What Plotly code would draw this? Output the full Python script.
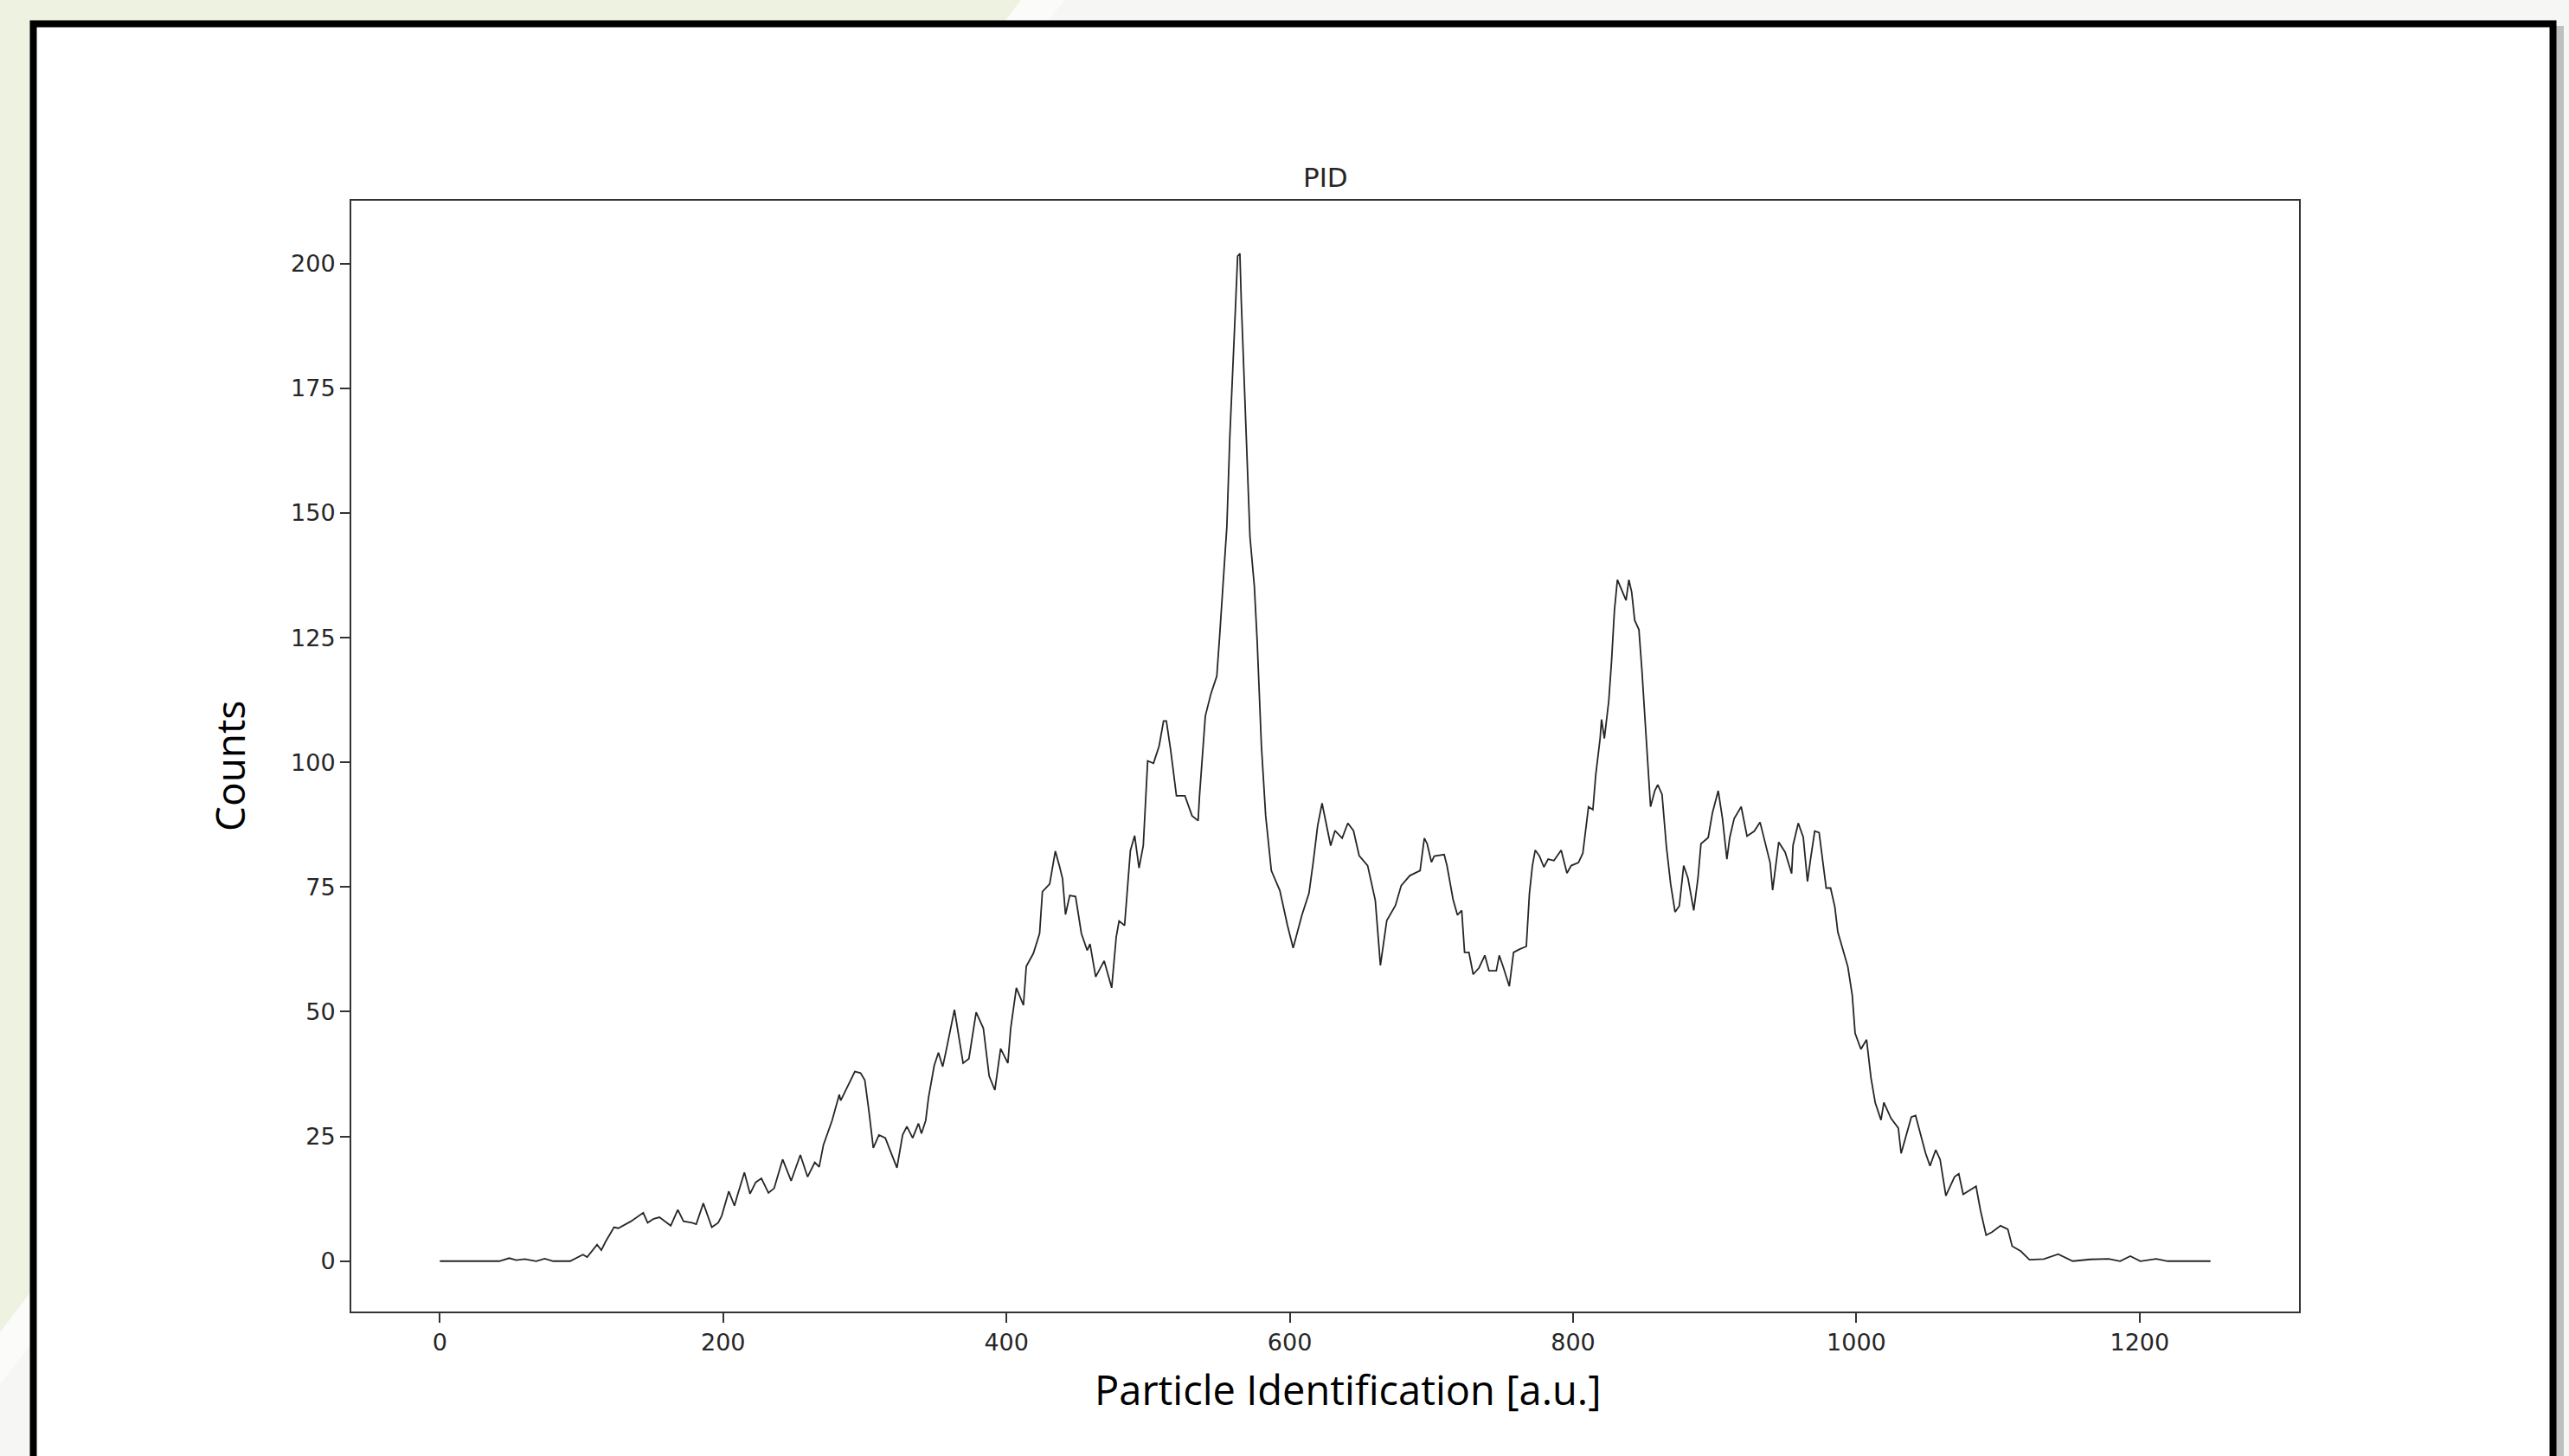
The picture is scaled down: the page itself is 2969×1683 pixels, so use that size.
import plotly.graph_objects as go

# ---- data ----
pid_x = [0, 10, 20, 30, 42, 49, 54, 60, 64, 68, 74, 80, 92,
         101, 104, 111, 114, 117, 123, 126, 135, 143.6, 146.7, 151, 155, 163, 168, 172, 178, 181,
         186, 192, 196.5, 199, 204, 208, 210, 215, 219, 223, 227, 232, 236, 242, 248, 254.5,
         259.6, 264.7, 267.8, 270.8, 276.9, 282, 283, 286, 290, 293, 297, 300, 303, 306, 310,
         314.5, 317.6, 322.7, 326.7, 329.7, 333.8, 337.9, 340, 343, 345, 349, 352, 355, 357,
         360, 363.3, 367.4, 369.4, 373.5, 378.6, 383.7, 387.8, 391.8, 395.9, 401, 403, 407, 412,
         414, 419, 423.4, 425.4, 430.5, 434.5, 437.6, 439.6, 441.7, 444.7, 448.8, 450.8, 452.9,
         457, 459, 463, 469, 474.3, 477.5, 479.5, 483.4, 487.5, 490.5, 493.6, 496.6, 499.7,
         503.8, 507.8, 510.9, 512.9, 516, 520, 526, 531, 535.3, 536.3, 540.4, 544.4, 548.5,
         550.5, 553.6, 555.6, 557.7, 559.7, 561.7, 563.2, 564.8, 565.8, 567.8, 569.9, 571.9,
         575, 577, 580, 583, 587, 593, 598.4, 602.4, 608.5, 613.6, 616.7, 619.7, 622.8, 625.8,
         628.9, 631.9, 637, 641, 645, 649, 655, 660.4, 664, 668.5, 674.6, 678.7, 684.8, 692,
         695, 697, 700, 702, 709, 711, 715.3, 718.4, 721.4, 723.4, 726.5, 729.5, 733.6, 737.7,
         740.7, 745.8, 747.9, 750.9, 755, 758, 762, 767, 769.2, 771.3, 773.3, 776.3, 779.4,
         782.4, 786.5, 791.6, 795.7, 798.7, 803.8, 806.9, 810.9, 814, 816, 819.1, 820.1, 822.1,
         825.2, 827.2, 829.2, 831.3, 834.3, 837.4, 839.4, 841.4, 843.5, 846.5, 848.6, 850.6,
         853.7, 854.7, 857.7, 859.8, 862.8, 865.9, 868.9, 872, 875, 878.1, 881.1, 885.2, 888.2,
         890.3, 895.4, 898.4, 902.5, 905.5, 908.6, 910.6, 913.7, 918.7, 922.8, 927.9, 932, 936,
         939.1, 940.9, 943.6, 945.2, 949.7, 954.3, 955.3, 959, 962.5, 965.5, 967.6, 970.6,
         973.7, 976.7, 978.7, 981.8, 984.8, 986.9, 990.9, 994, 997.1, 999.1, 1003.2, 1007.2,
         1010.3, 1013.3, 1017.4, 1019.4, 1024.5, 1029.6, 1031.6, 1034.7, 1038.8, 1041.8,
         1044.9, 1048.9, 1052, 1056, 1059.1, 1063.2, 1069.3, 1072.3, 1075.4, 1084.5, 1087.6,
         1091.6, 1095.7, 1101.8, 1106.9, 1110, 1116.1, 1122.2, 1132.3, 1142.5, 1152.7, 1164.9,
         1178.1, 1186.2, 1193.4, 1200.5, 1211.7, 1219.8, 1235, 1250]

counts = [0, 0, 0, 0, 0, 0.6, 0.2, 0.4, 0.2, 0, 0.5, 0, 0,
          1.3, 0.8, 3.3, 2.2, 3.9, 6.8, 6.6, 8.0, 9.7, 7.7, 8.5, 8.8, 7.1, 10.3, 8.0, 7.7, 7.4,
          11.6, 6.8, 7.7, 9.1, 14.0, 11.1, 13.1, 17.8, 13.5, 15.8, 16.6, 13.7, 14.6, 20.4, 16.1, 21.3,
          16.9, 19.8, 18.9, 23.3, 28.2, 33.4, 32.2, 34.0, 36.3, 38.0, 37.7, 36.3, 29.9, 22.7, 25.3,
          24.7, 22.4, 18.7, 25.3, 27.0, 24.7, 27.6, 25.6, 28.2, 32.8, 39.2, 41.8, 39.0, 41.6,
          45.5, 50.4, 43.2, 39.7, 40.6, 49.9, 46.7, 37.1, 34.3, 42.6, 39.7, 46.7, 54.8, 51.3,
          59.1, 61.7, 65.7, 74.1, 75.6, 82.2, 79.0, 76.7, 69.5, 73.3, 73.1, 69.8, 65.7,
          62.3, 63.6, 57.0, 60.2, 54.8, 65.0, 68.2, 67.3, 82.3, 85.3, 78.8, 83.3, 100.3,
          99.8, 103.3, 108.3, 108.3, 102.3, 93.3, 93.3, 89.3, 88.3, 93.3, 109.3, 113.8, 117.3,
          125.3, 138.8, 147.3, 165.3, 177.3, 191.3, 201.5, 202.0, 192.3, 177.3, 158.3, 145.3,
          135.3, 124.3, 103.3, 89.3, 78.3, 74.3, 67.3, 62.8, 69.3, 73.8, 80.3, 87.3, 91.8, 87.3,
          83.3, 86.3, 84.8, 87.8, 86.3, 81.3, 79.3, 72.3, 59.3, 68.3, 71.3, 75.3, 77.3, 78.3,
          84.8, 83.7, 80.0, 81.2, 81.5, 79.3, 72.5, 69.4, 70.3, 61.9, 61.9, 57.5, 58.8, 61.3,
          58.2, 58.2, 61.3, 58.8, 55.1, 61.9, 62.5, 63.1, 73.7, 79.3, 82.4, 81.2, 79.0,
          80.6, 80.3, 82.4, 77.8, 79.3, 79.9, 81.8, 91.1, 90.5, 97.4, 104.8, 108.6, 104.8,
          112.3, 120.4, 130.4, 136.6, 134.7, 132.5, 136.6, 134.1, 128.5, 126.6, 118.5, 109.8,
          94.9, 91.1, 94.3, 95.5, 93.6, 83.1, 75.6, 70.0, 71.2, 79.3, 76.8, 70.3, 76.8,
          83.7, 84.9, 89.9, 94.3, 88.7, 80.6, 84.9, 88.7, 91.1, 85.2, 86.2, 88.0, 83.4,
          79.9, 74.4, 80.5, 84.0, 82.0, 77.7, 83.4, 87.8, 85.0, 76.1, 80.5, 86.2,
          85.9, 79.3, 74.8, 74.8, 71.0, 66.0, 62.2, 59.0, 53.3, 45.7, 42.5, 44.4,
          36.8, 31.8, 28.3, 31.8, 28.6, 26.7, 21.6, 24.8, 28.9, 29.2,
          25.8, 21.6, 19.1, 22.3, 20.4, 13.1, 16.9, 17.5, 13.4, 15.0, 10.2,
          5.2, 5.8, 7.1, 6.4, 3.0, 2.0, 0.3, 0.4, 1.4, 0, 0.35,
          0.45, 0, 1.0, 0, 0.45, 0, 0, 0]

x_ticks = [0, 200, 400, 600, 800, 1000, 1200]
y_ticks = [0, 25, 50, 75, 100, 125, 150, 175, 200]

# ---- page geometry (pixels) ----
W, H = 2969, 1683
PL, PR, PT, PB = 406, 2657, 232, 1516


def xp(px):
    return (px - PL) / (PR - PL)


def yp(py):
    return (PB - py) / (PB - PT)


fig = go.Figure()
fig.add_trace(go.Scatter(x=pid_x, y=counts, mode="lines",
                         line=dict(color="#262626", width=1.8),
                         showlegend=False, hoverinfo="skip"))

shapes = []
# slide background green wedge
shapes.append(dict(type="path", xref="paper", yref="paper", layer="below",
                   path=f"M {xp(0)},{yp(0)} L {xp(1180)},{yp(0)} L {xp(0)},{yp(1540)} Z",
                   fillcolor="#EEF2E0", line=dict(width=0)))
# soft white swoosh along the wedge edge
shapes.append(dict(type="path", xref="paper", yref="paper", layer="below",
                   path=f"M {xp(1180)},{yp(0)} L {xp(1230)},{yp(0)} L {xp(0)},{yp(1600)} L {xp(0)},{yp(1540)} Z",
                   fillcolor="#FBFBFA", line=dict(width=0)))
# drop shadow of the frame
shapes.append(dict(type="rect", xref="paper", yref="paper", layer="below",
                   x0=xp(2954), x1=xp(2963), y0=yp(H + 10), y1=yp(30),
                   fillcolor="rgba(0,0,0,0.22)", line=dict(width=0)))
# frame with white interior
shapes.append(dict(type="rect", xref="paper", yref="paper", layer="below",
                   x0=xp(38.5), x1=xp(2950.5), y0=yp(H + 20), y1=yp(27.5),
                   fillcolor="white", line=dict(color="black", width=8)))

annotations = [
    dict(text="PID", xref="paper", yref="paper", x=0.5, y=yp(205),
         xanchor="center", yanchor="middle", showarrow=False,
         font=dict(family="DejaVu Sans", size=31, color="#262626")),
    dict(text="Counts", xref="paper", yref="paper", x=xp(265), y=yp(886),
         xanchor="center", yanchor="middle", showarrow=False, textangle=-90,
         font=dict(family="Open Sans", size=46, color="black")),
    dict(text="Particle Identification [a.u.]", xref="paper", yref="paper",
         x=xp(1558), y=yp(1606), xanchor="center", yanchor="middle", showarrow=False,
         font=dict(family="Open Sans", size=47, color="black")),
]

axis_common = dict(showline=True, mirror=True, linecolor="#333333", linewidth=2,
                   ticks="outside", ticklen=11, tickwidth=2, tickcolor="#333333",
                   showgrid=False, zeroline=False, automargin=False,
                   tickfont=dict(family="DejaVu Sans", size=27, color="#262626"))

fig.update_layout(
    template="none",
    width=W, height=H, autosize=False,
    margin=dict(l=PL, r=W - PR, t=PT, b=H - PB, pad=0),
    paper_bgcolor="#F6F6F4",
    plot_bgcolor="rgba(0,0,0,0)",
    shapes=shapes,
    annotations=annotations,
    xaxis=dict(range=[-62.5, 1312.5], tickvals=x_ticks,
               ticktext=[str(v) for v in x_ticks], **axis_common),
    yaxis=dict(range=[-10.1, 212.6], tickvals=y_ticks,
               ticktext=[str(v) for v in y_ticks], **axis_common),
    showlegend=False,
)

fig.write_html("out.html",
               config={"displayModeBar": False},
               post_script="document.body.style.margin='0';"
                           "document.body.style.overflow='hidden';")
